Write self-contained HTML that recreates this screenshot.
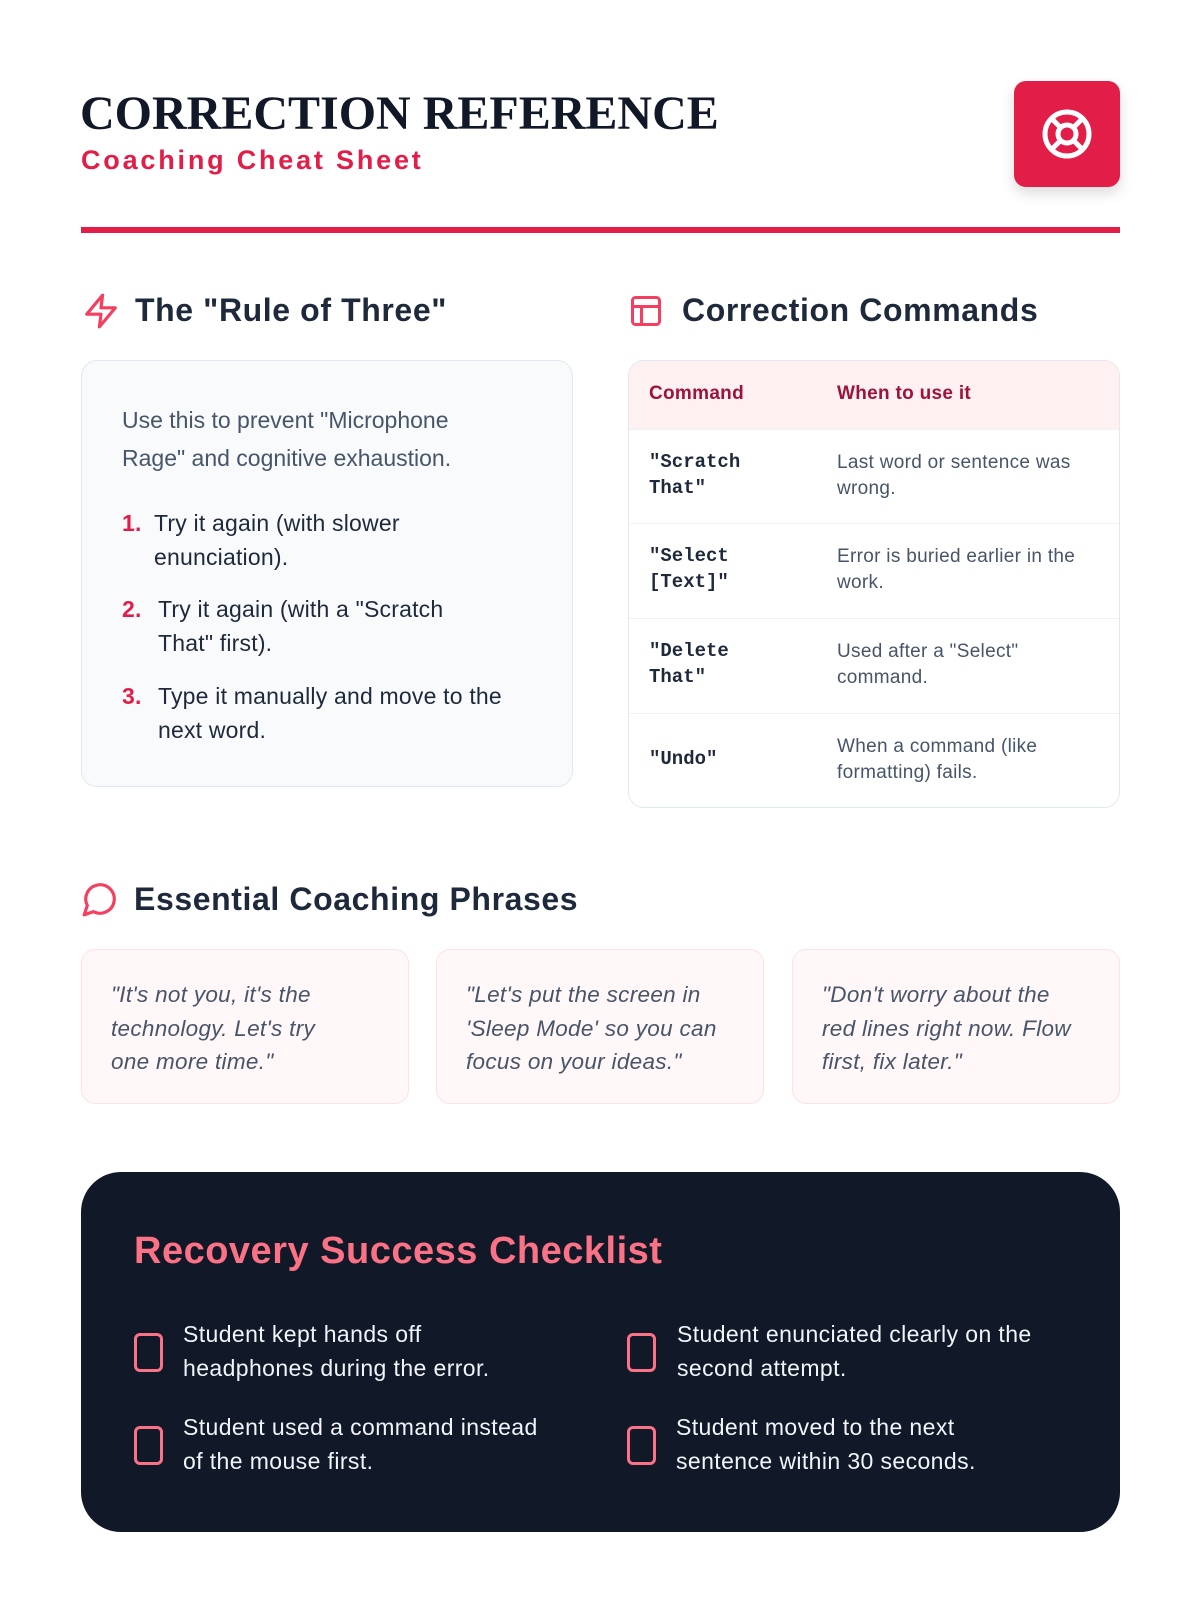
<!DOCTYPE html>
<html><head><meta charset="utf-8"><style>
*{margin:0;padding:0;box-sizing:border-box}
body{width:1200px;height:1600px;background:#fff;font-family:"Liberation Sans",sans-serif;position:relative;overflow:hidden;color:#1e293b}
.a{position:absolute}
h1{position:absolute;left:80px;top:86px;font-family:"Liberation Serif",serif;font-weight:bold;font-size:48px;color:#111827;letter-spacing:0px;white-space:nowrap}
.sub{left:81px;top:145px;font-size:27px;font-weight:bold;color:#e11d48;letter-spacing:2.8px;white-space:nowrap}
.logo{left:1014px;top:81px;width:106px;height:106px;background:#e11d48;border-radius:12px;box-shadow:0 6px 14px rgba(0,0,0,.15)}
.rule{left:81px;top:227px;width:1039px;height:6px;background:#e11d48}
.h2{font-size:32px;font-weight:bold;color:#1e293b;white-space:nowrap;letter-spacing:0.6px}
.card{left:81px;top:360px;width:492px;height:427px;background:#f8fafc;border:1.5px solid #e2e8f0;border-radius:16px}
.p{font-size:23px;color:#475569;line-height:38px;white-space:nowrap}
.li{font-size:23px;color:#1e293b;line-height:34px;white-space:nowrap;letter-spacing:0.2px}
.li b{color:#e11d48;position:absolute;left:0}
.tbl{left:628px;top:360px;width:492px;height:448px;border:1.5px solid #e2e8f0;border-radius:16px;overflow:hidden;background:#fff}
.th{position:absolute;top:0;left:0;width:100%;height:68px;background:#fff1f2}
.th span{position:absolute;top:22px;font-size:19px;font-weight:bold;color:#9f1239;letter-spacing:0.3px}
.row{position:absolute;left:0;width:100%;border-top:1.5px solid #eef2f6}
.cmd{position:absolute;left:20px;font-family:"Liberation Mono",monospace;font-weight:bold;font-size:19px;line-height:26px;color:#1e293b}
.desc{position:absolute;left:208px;font-size:19px;line-height:26px;color:#475569;white-space:nowrap;letter-spacing:0.3px}
.q{width:328px;height:155px;top:949px;background:#fff7f8;border:1.5px solid #fde2e6;border-radius:14px;padding:28px 10px 0 29px;font-style:italic;font-size:22.5px;line-height:33.5px;color:#475569;white-space:nowrap;letter-spacing:0.3px}
.dark{left:81px;top:1172px;width:1039px;height:360px;background:#111827;border-radius:40px}
.ck{width:29px;height:39px;border:3px solid #fb7185;border-radius:6px}
.ct{font-size:23px;line-height:33.5px;color:#f1f5f9;white-space:nowrap;letter-spacing:0.4px}
</style></head><body>
<h1>CORRECTION REFERENCE</h1>
<div class="a sub">Coaching Cheat Sheet</div>
<div class="a logo"><svg width="106" height="106" viewBox="0 0 106 106"><g fill="none" stroke="#fff" stroke-width="5"><circle cx="53" cy="53" r="22"/><circle cx="53" cy="53" r="9"/><line x1="37.5" y1="37.5" x2="46.5" y2="46.5"/><line x1="68.5" y1="37.5" x2="59.5" y2="46.5"/><line x1="37.5" y1="68.5" x2="46.5" y2="59.5"/><line x1="68.5" y1="68.5" x2="59.5" y2="59.5"/></g></svg></div>
<div class="a rule"></div>

<svg class="a" style="left:82px;top:292px" width="38" height="38" viewBox="0 0 24 24" fill="none" stroke="#f43f5e" stroke-width="2" stroke-linejoin="round" stroke-linecap="round"><path d="M13 2 3 14h9l-1 8 10-12h-9l1-8z"/></svg>
<div class="a h2" style="left:135px;top:292px">The "Rule of Three"</div>
<svg class="a" style="left:628px;top:293px" width="36" height="36" viewBox="0 0 24 24" fill="none" stroke="#f43f5e" stroke-width="2" stroke-linejoin="round"><rect x="3" y="3" width="18" height="18" rx="2"/><line x1="3" y1="9" x2="21" y2="9"/><line x1="9" y1="9" x2="9" y2="21"/></svg>
<div class="a h2" style="left:682px;top:292px">Correction Commands</div>

<div class="a card">
<div class="a p" style="left:40px;top:40px">Use this to prevent "Microphone<br>Rage" and cognitive exhaustion.</div>
<div class="a li" style="left:40px;top:145px"><b>1.</b><div style="padding-left:32px">Try it again (with slower<br>enunciation).</div></div>
<div class="a li" style="left:40px;top:231px"><b>2.</b><div style="padding-left:36px">Try it again (with a "Scratch<br>That" first).</div></div>
<div class="a li" style="left:40px;top:318px"><b>3.</b><div style="padding-left:36px">Type it manually and move to the<br>next word.</div></div>
</div>

<div class="a tbl">
<div class="th"><span style="left:20px">Command</span><span style="left:208px">When to use it</span></div>
<div class="row" style="top:68px;height:95px"><div class="cmd" style="top:19px">"Scratch<br>That"</div><div class="desc" style="top:20px">Last word or sentence was<br>wrong.</div></div>
<div class="row" style="top:162px;height:95px"><div class="cmd" style="top:19px">"Select<br>[Text]"</div><div class="desc" style="top:20px">Error is buried earlier in the<br>work.</div></div>
<div class="row" style="top:257px;height:95px"><div class="cmd" style="top:19px">"Delete<br>That"</div><div class="desc" style="top:20px">Used after a "Select"<br>command.</div></div>
<div class="row" style="top:352px;height:96px"><div class="cmd" style="top:32px">"Undo"</div><div class="desc" style="top:20px">When a command (like<br>formatting) fails.</div></div>
</div>

<svg class="a" style="left:81px;top:880px" width="38" height="38" viewBox="0 0 24 24" fill="none" stroke="#f43f5e" stroke-width="2" stroke-linejoin="round"><path d="M7.9 20A9 9 0 1 0 4 16.1L2 22z"/></svg>
<div class="a h2" style="left:134px;top:881px">Essential Coaching Phrases</div>
<div class="a q" style="left:81px">"It's not you, it's the<br>technology. Let's try<br>one more time."</div>
<div class="a q" style="left:436px">"Let's put the screen in<br>'Sleep Mode' so you can<br>focus on your ideas."</div>
<div class="a q" style="left:792px">"Don't worry about the<br>red lines right now. Flow<br>first, fix later."</div>

<div class="a dark"></div>
<div class="a" style="left:134px;top:1230px;font-size:38px;font-weight:bold;color:#fb7185;white-space:nowrap;letter-spacing:0.5px">Recovery Success Checklist</div>
<div class="a ck" style="left:134px;top:1333px"></div>
<div class="a ct" style="left:183px;top:1318px">Student kept hands off<br>headphones during the error.</div>
<div class="a ck" style="left:134px;top:1426px"></div>
<div class="a ct" style="left:183px;top:1411px">Student used a command instead<br>of the mouse first.</div>
<div class="a ck" style="left:627px;top:1333px"></div>
<div class="a ct" style="left:677px;top:1318px">Student enunciated clearly on the<br>second attempt.</div>
<div class="a ck" style="left:627px;top:1426px"></div>
<div class="a ct" style="left:676px;top:1411px">Student moved to the next<br>sentence within 30 seconds.</div>
</body></html>
